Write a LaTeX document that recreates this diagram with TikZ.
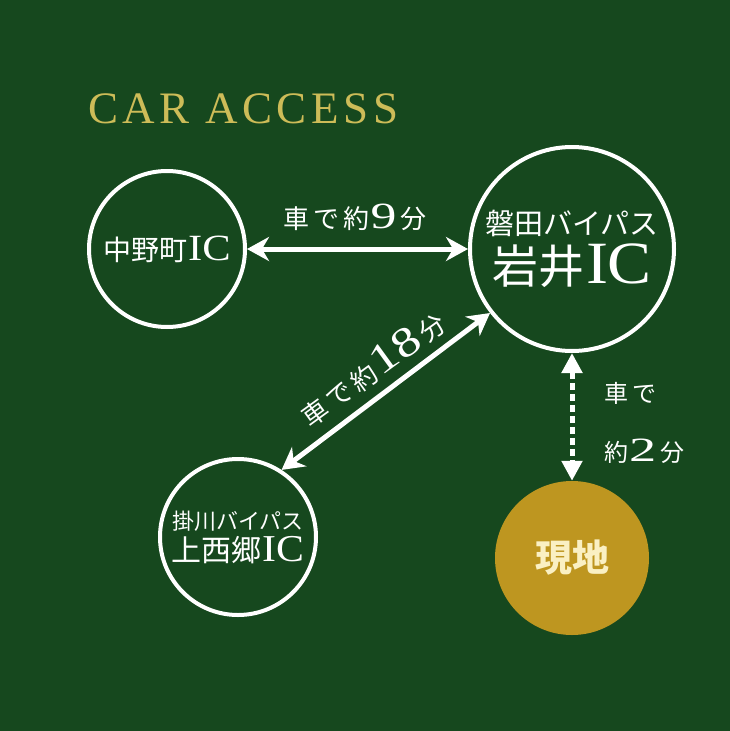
\documentclass[tikz,border=0pt]{standalone}
\usepackage{fontspec}
\setmainfont{Liberation Serif}
\newfontfamily\cjk{Noto Sans CJK JP}
\usetikzlibrary{arrows.meta}
\definecolor{bg}{RGB}{22,72,30}
\definecolor{titlegold}{RGB}{205,188,88}
\definecolor{sitegold}{RGB}{190,150,32}
\definecolor{cream}{RGB}{250,240,195}
\newcommand\jpt[2]{{\cjk\fontsize{#1}{#1}\selectfont #2}}
\newcommand\ltn[2]{{\fontsize{#1}{#1}\selectfont #2}}
\newcommand\wdg[3]{\scalebox{#2}[1]{\fontsize{#1}{#1}\selectfont #3}}
\begin{document}
\begin{tikzpicture}[x=1pt,y=-1pt,
  ring/.style={circle, draw=white, line width=4pt, minimum size=#1, inner sep=0pt, text=white, align=center},
  dbl/.style={draw=white, line width=5pt, {Stealth[length=22pt,width=24pt,inset=7pt]}-{Stealth[length=22pt,width=24pt,inset=7pt]}},
  dsh/.style={draw=white, line width=5pt, dash pattern=on 7pt off 4pt, {Triangle[length=20pt,width=20pt]}-{Triangle[length=20pt,width=20pt]}},
  lbl/.style={text=white, inner sep=0pt}]
\fill[bg] (0,0) rectangle (730,731);
\useasboundingbox (0,0) rectangle (730,731);

\node[anchor=base west, inner sep=0pt, text=titlegold] (title) at (88,123)
  {\fontsize{45}{45}\selectfont\addfontfeature{LetterSpace=10}CAR ACCESS};

\node[ring=156pt] (nak) at (167,249)
  {\jpt{28}{中野町}\kern1pt\wdg{37}{1.15}{IC}};
\node[ring=204pt] (iwai) at (572,249)
  {\jpt{29}{磐田バイパス}\\[6pt]\jpt{46}{岩井}\kern2pt\wdg{60}{1.1}{IC}};
\node[ring=156pt] (kami) at (238,537)
  {\jpt{22}{掛川バイパス}\\[4pt]\jpt{30}{上西郷}\kern1pt\wdg{38}{1.1}{IC}};
\node[circle, fill=sitegold, minimum size=154pt, inner sep=0pt, text=cream] (site) at (572,558)
  {\jpt{37}{\bfseries 現地}};

\draw[dbl] (nak) -- (iwai);
\draw[dbl] (iwai.218) -- (kami.57);
\draw[dsh] (iwai.south) -- (site.north);

\node[lbl] (l9) at (355,217)
  {\jpt{26}{車\kern4pt で\kern4pt 約}\kern1pt\wdg{37}{1.4}{9}\kern4pt\jpt{26}{分}};
\node[lbl, rotate=36] (l18) at (372,368)
  {\jpt{26}{車\kern4pt で\kern4pt 約}\kern2pt\wdg{42}{1.25}{18}\kern4pt\jpt{26}{分}};
\node[lbl, anchor=west] (l2a) at (604,393) {\jpt{24}{車\kern4pt で}};
\node[lbl, anchor=west] (l2b) at (604,451) {\jpt{24}{約}\kern1pt\wdg{34}{1.6}{2}\kern4pt\jpt{24}{分}};
\end{tikzpicture}
\end{document}
